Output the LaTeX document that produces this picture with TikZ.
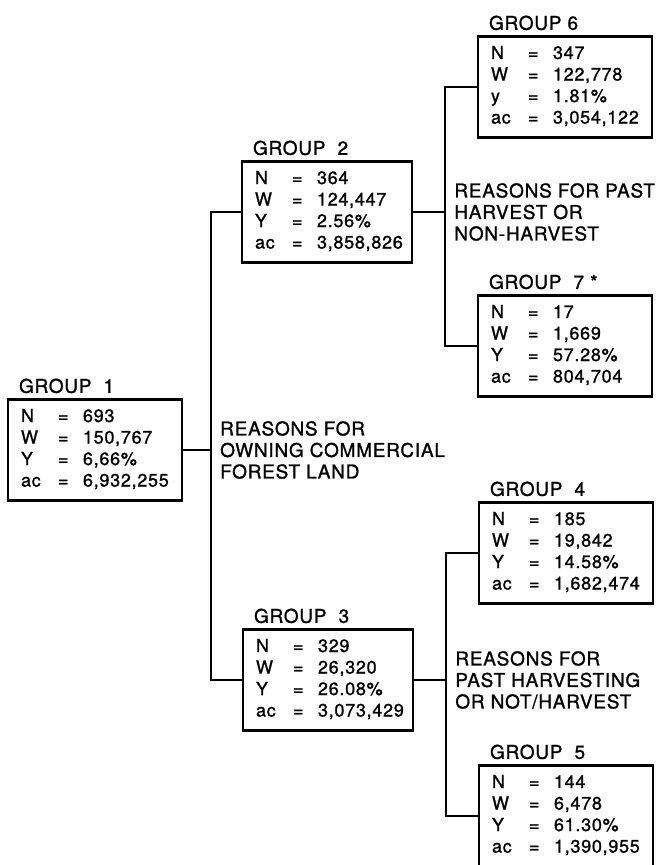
\documentclass[tikz,border=0pt]{standalone}
\usepackage{fontspec}
\setmainfont{TeX Gyre Heros}[LetterSpace=4, FakeBold=1.1]
\usepackage{tikz}
\usetikzlibrary{positioning}

% four rows of one group; optional arg is the letter of the third row
\newcommand{\groupstats}[5][Y]{%
  \begin{tabular}{@{}p{37pt}@{}p{25pt}@{}l@{}}
    N & = & #2 \\
    W & = & #3 \\
    #1 & = & #4 \\
    ac & = & #5
  \end{tabular}}

\begin{document}
\begin{tikzpicture}[
    x=1pt, y=-1pt,
    groupbox/.style={rectangle, draw, line width=2.3pt, text width=148pt, minimum height=101pt, inner xsep=13pt, inner ysep=6pt, align=left, font=\fontsize{18}{21.5}\selectfont},
    grplabel/.style={inner sep=0pt, font=\fontsize{19}{21}\selectfont},
    reason/.style={inner sep=0pt, align=left, font=\fontsize{19}{21.5}\selectfont},
    link/.style={line width=1.8pt}
]
\useasboundingbox (0,0) rectangle (669,865);

% Group 1
\node (g1) [groupbox] at (95,450) {\groupstats{693}{150,767}{6,66\%}{6,932,255}};
\node (lab1) [grplabel, above right=5pt and 12pt of g1.north west] {GROUP\ \ 1};

% Group 2 and 3
\node (g2) [groupbox, text width=144pt] at (327,212) {\groupstats{364}{124,447}{2.56\%}{3,858,826}};
\node (lab2) [grplabel, above right=5pt and 12pt of g2.north west] {GROUP\ \ 2};

\node (g3) [groupbox, text width=144pt] at (328,680) {\groupstats{329}{26,320}{26.08\%}{3,073,429}};
\node (lab3) [grplabel, above right=5pt and 12pt of g3.north west] {GROUP\ \ 3};

% Group 6 and 7
\node (g6) [groupbox] at (565,87) {\groupstats[y]{347}{122,778}{1.81\%}{3,054,122}};
\node (lab6) [grplabel, above right=5pt and 12pt of g6.north west] {GROUP 6};

\node (g7) [groupbox] at (565,346) {\groupstats{17}{1,669}{57.28\%}{804,704}};
\node (lab7) [grplabel, above right=5pt and 12pt of g7.north west] {GROUP\ \ 7 *};

% Group 4 and 5
\node (g4) [groupbox] at (566,553) {\groupstats{185}{19,842}{14.58\%}{1,682,474}};
\node (lab4) [grplabel, above right=5pt and 12pt of g4.north west] {GROUP\ \ 4};

\node (g5) [groupbox] at (566,816) {\groupstats{144}{6,478}{61.30\%}{1,390,955}};
\node (lab5) [grplabel, above right=5pt and 12pt of g5.north west] {GROUP\ \ 5};

% Split of group 1
\coordinate (j1) at (211,450);
\draw [link] (g1.east) -- (j1);
\draw [link] (g2.west) -| (j1) |- (g3.west);
\node (r1) [reason, right=9pt of j1] {REASONS FOR\\OWNING COMMERCIAL\\FOREST LAND};

% Split of group 2
\path (g2.east) ++(32,0) coordinate (j2);
\draw [link] (g2.east) -- (j2);
\draw [link] (g6.west) -| (j2) |- (g7.west);
\node (r2) [reason, right=9pt of j2] {REASONS FOR PAST\\HARVEST OR\\NON-HARVEST};

% Split of group 3
\path (g3.east) ++(32,0) coordinate (j3);
\draw [link] (g3.east) -- (j3);
\draw [link] (g4.west) -| (j3) |- (g5.west);
\node (r3) [reason, right=9pt of j3] {REASONS FOR\\PAST HARVESTING\\OR NOT/HARVEST};

\end{tikzpicture}
\end{document}
